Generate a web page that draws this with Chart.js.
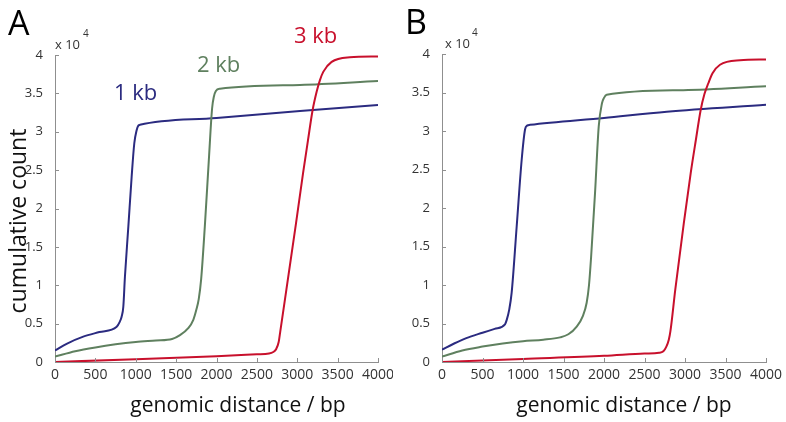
<!DOCTYPE html>
<html>
<head>
<meta charset="utf-8">
<script src="https://cdn.jsdelivr.net/npm/chart.js@4"></script>
<style>
  body { margin: 0; background: #fff; }
  #wrap { position: relative; width: 786px; height: 422px; }
  .panel { position: absolute; top: 0; width: 393px; height: 422px; }
</style>
</head>
<body>
<div id="wrap">
  <div class="panel" style="left:0"><canvas id="chartA" width="393" height="422"></canvas></div>
  <div class="panel" style="left:393px"><canvas id="chartB" width="393" height="422"></canvas></div>
</div>
<script>
// axis ticks
var ticksX = [0, 500, 1000, 1500, 2000, 2500, 3000, 3500, 4000];
var ticksY = [0, 0.5, 1, 1.5, 2, 2.5, 3, 3.5, 4]; // x 10^4
var seriesNames = ['1 kb', '2 kb', '3 kb'];

// panel A - genomic distance (bp) and cumulative count (x 10^4)
var bpA_1kb  = [0, 150, 350, 550, 764, 800, 825, 846, 866, 908, 949, 982, 1011, 1032, 1052, 2000, 3034, 4000];
var cntA_1kb = [0.15, 0.24, 0.33, 0.39, 0.46, 0.52, 0.59, 0.72, 1.11, 1.76, 2.41, 2.85, 3.02, 3.08, 3.09, 3.18, 3.27, 3.35];
var bpA_2kb  = [0, 250, 500, 750, 1000, 1250, 1450, 1548, 1650, 1713, 1750, 1780, 1810, 1855, 1905, 1945, 1968, 1992, 2043, 3034, 4000];
var cntA_2kb = [0.07, 0.14, 0.19, 0.23, 0.26, 0.28, 0.30, 0.35, 0.44, 0.55, 0.68, 0.82, 1.08, 1.76, 2.63, 3.30, 3.46, 3.53, 3.56, 3.61, 3.66];
var bpA_3kb  = [0, 1000, 2000, 2500, 2650, 2703, 2740, 2770, 2790, 2865, 2985, 3072, 3133, 3190, 3240, 3280, 3322, 3426, 3652, 4000];
var cntA_3kb = [0, 0.035, 0.075, 0.10, 0.11, 0.13, 0.17, 0.26, 0.40, 0.94, 1.81, 2.46, 2.89, 3.28, 3.52, 3.67, 3.78, 3.91, 3.97, 3.98];

// panel B
var bpB_1kb  = [0, 150, 300, 500, 650, 778, 800, 830, 860, 922, 984, 1025, 1050, 1086, 2000, 2775, 4000];
var cntB_1kb = [0.16, 0.24, 0.31, 0.38, 0.43, 0.49, 0.55, 0.68, 0.90, 1.76, 2.63, 3.02, 3.07, 3.08, 3.17, 3.25, 3.34];
var bpB_2kb  = [0, 250, 500, 750, 1000, 1250, 1457, 1560, 1663, 1740, 1786, 1815, 1840, 1889, 1935, 1975, 2000, 2033, 2979, 4000];
var cntB_2kb = [0.07, 0.15, 0.20, 0.24, 0.27, 0.29, 0.32, 0.36, 0.46, 0.60, 0.77, 1.00, 1.35, 2.19, 3.06, 3.36, 3.43, 3.47, 3.53, 3.58];
var bpB_3kb  = [0, 1000, 2000, 2500, 2680, 2733, 2770, 2800, 2820, 2880, 2985, 3070, 3135, 3193, 3240, 3288, 3340, 3432, 3679, 4000];
var cntB_3kb = [0, 0.04, 0.08, 0.11, 0.12, 0.14, 0.20, 0.29, 0.40, 0.94, 1.80, 2.45, 2.89, 3.27, 3.48, 3.62, 3.75, 3.86, 3.92, 3.93];

var colors = ['#2b2b80', '#5f805f', '#c8102c'];
var axisColor = '#8f8f8f';
var fontFam = "'Open Sans', sans-serif";

Chart.defaults.font.family = fontFam;

function toPoints(xs, ys) {
    var pts = [];
    xs.forEach((x, i) => { pts.push({x: x, y: ys[i]}); });
    return pts;
}

// draws inward tick marks and the free text of a panel
function panelDecor(texts) {
    return {
        id: 'panelDecor',
        afterDraw: function(chart) {
            var ctx = chart.ctx;
            var sx = chart.scales.x, sy = chart.scales.y;
            ctx.save();
            ctx.strokeStyle = axisColor;
            ctx.lineWidth = 1;
            ctx.beginPath();
            ticksX.forEach((v) => {
                var px = Math.round(sx.getPixelForValue(v)) + 0.5;
                ctx.moveTo(px, sy.bottom);
                ctx.lineTo(px, sy.bottom - 4);
            });
            ticksY.forEach((v) => {
                var py = Math.round(sy.getPixelForValue(v)) + 0.5;
                ctx.moveTo(sx.left, py);
                ctx.lineTo(sx.left + 4, py);
            });
            ctx.stroke();

            texts.forEach((t) => {
                ctx.save();
                ctx.font = t.font;
                ctx.fillStyle = t.color || '#000';
                ctx.textAlign = t.align || 'left';
                ctx.textBaseline = 'alphabetic';
                ctx.translate(t.x, t.y);
                if (t.rotate) ctx.rotate(t.rotate);
                ctx.fillText(t.text, 0, 0);
                ctx.restore();
            });
            ctx.restore();
        }
    };
}

function makePanel(canvasId, series, layout, texts) {
    var datasets = series.map((s, i) => ({
        label: seriesNames[i],
        data: toPoints(s[0], s[1]),
        borderColor: colors[i],
        borderWidth: 2,
        pointRadius: 0,
        fill: false,
        cubicInterpolationMode: 'monotone',
        order: 3 - i
    }));

    var config = {
        type: 'line',
        data: { datasets: datasets },
        options: {
            responsive: false,
            animation: false,
            devicePixelRatio: 1,
            layout: { padding: { top: layout.top, right: layout.right, bottom: 0, left: 0 } },
            plugins: { legend: { display: false }, tooltip: { enabled: false } },
            scales: {
                x: {
                    type: 'linear',
                    min: 0, max: 4000,
                    afterBuildTicks: (s) => { s.ticks = ticksX.map(v => ({value: v})); },
                    ticks: { padding: -3, color: '#333', font: { size: 14 }, maxRotation: 0, callback: (v) => String(v) },
                    grid: { display: false },
                    border: { display: true, color: axisColor, width: 1 },
                    afterFit: (s) => { s.height = 60; s.paddingLeft = 0; s.paddingRight = 0; }
                },
                y: {
                    type: 'linear',
                    min: 0, max: 4,
                    afterBuildTicks: (s) => { s.ticks = ticksY.map(v => ({value: v})); },
                    ticks: { padding: 4, color: '#333', font: { size: 13 }, callback: (v) => String(v) },
                    grid: { display: false },
                    border: { display: true, color: axisColor, width: 1 },
                    afterFit: (s) => { s.width = layout.left; s.paddingTop = 0; s.paddingBottom = 0; }
                }
            }
        },
        plugins: [panelDecor(texts)]
    };

    var ctx = document.getElementById(canvasId);
    return new Chart(ctx, config);
}

var titleFont = '21px ' + fontFam;

makePanel('chartA',
    [[bpA_1kb, cntA_1kb], [bpA_2kb, cntA_2kb], [bpA_3kb, cntA_3kb]],
    { left: 55, right: 15, top: 55 },
    [
        { text: 'A', x: 8, y: 35, font: '34px ' + fontFam },
        { text: 'x 10', x: 55, y: 49, font: '13px ' + fontFam, color: '#333' },
        { text: '4', x: 83, y: 37, font: '10px ' + fontFam, color: '#333' },
        { text: seriesNames[0], x: 114, y: 100, font: '22px ' + fontFam, color: colors[0] },
        { text: seriesNames[1], x: 197, y: 72, font: '22px ' + fontFam, color: colors[1] },
        { text: seriesNames[2], x: 294, y: 43, font: '22px ' + fontFam, color: colors[2] },
        { text: 'genomic distance / bp', x: 238, y: 412, align: 'center', font: titleFont, color: '#111' },
        { text: 'cumulative count', x: 26, y: 221, align: 'center', rotate: -Math.PI / 2, font: '23px ' + fontFam, color: '#111' }
    ]);

makePanel('chartB',
    [[bpB_1kb, cntB_1kb], [bpB_2kb, cntB_2kb], [bpB_3kb, cntB_3kb]],
    { left: 49, right: 20, top: 54 },
    [
        { text: 'B', x: 12, y: 34, font: '34px ' + fontFam },
        { text: 'x 10', x: 52, y: 48, font: '13px ' + fontFam, color: '#333' },
        { text: '4', x: 79, y: 36, font: '10px ' + fontFam, color: '#333' },
        { text: 'genomic distance / bp', x: 231, y: 412, align: 'center', font: titleFont, color: '#111' }
    ]);
</script>
</body>
</html>
